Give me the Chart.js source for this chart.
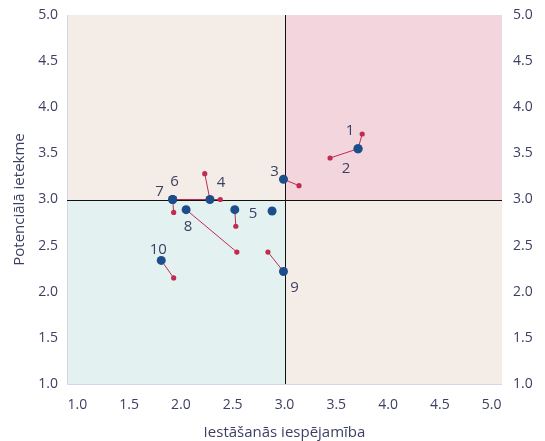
<!DOCTYPE html>
<html>
<head>
<meta charset="utf-8">
<script src="https://cdn.jsdelivr.net/npm/chart.js@4.4.1/dist/chart.umd.min.js"></script>
<style>
  html, body { margin: 0; padding: 0; background: #ffffff; }
  #wrap { width: 545px; height: 441px; position: relative; }
</style>
</head>
<body>
<div id="wrap"><canvas id="c" width="545" height="441"></canvas></div>
<script>
// Risk identifiers
const riskIds = ['1', '2', '3', '4', '5', '6', '7', '8', '9', '10', ''];

// Current assessment (likelihood, impact)
const currentLikelihood = [3.71, 3.71, 2.99, 2.28, 2.88, 1.92, 1.92, 2.05, 2.99, 1.81, 2.52];
const currentImpact     = [3.55, 3.55, 3.22, 3.00, 2.875, 3.00, 3.00, 2.89, 2.22, 2.34, 2.89];

// Previous assessment (null where there is none)
const previousLikelihood = [3.75, 3.44, 3.14, 2.23, null, 2.38, 1.93, 2.54, 2.84, 1.93, 2.53];
const previousImpact     = [3.71, 3.45, 3.15, 3.28, null, 3.00, 2.86, 2.43, 2.43, 2.15, 2.71];

// Axis ticks, plotted ranges and quadrant threshold
const axisTicks = [1.0, 1.5, 2.0, 2.5, 3.0, 3.5, 4.0, 4.5, 5.0];
const xRange = [0.9, 5.1];
const yRange = [1.0, 5.0];
const threshold = 3.0;

const TEXT = '#3c3f62';
const BLUE = '#1d4e89';
const RED = '#c12b52';
const FONT = "'Open Sans', 'Noto Sans', sans-serif";

// Pixel offsets for the risk number labels, relative to the current point
const labelOffsets = {
  '1': [-8, -18], '2': [-12, 20], '3': [-9, -7], '4': [11, -17], '5': [-19, 3],
  '6': [2, -18], '7': [-13, -8], '8': [2, 17], '9': [11, 16], '10': [-3, -11]
};

const currentPts = riskIds.map((id, i) => ({ x: currentLikelihood[i], y: currentImpact[i] }));
const previousPts = riskIds
  .map((id, i) => previousLikelihood[i] == null ? null : { x: previousLikelihood[i], y: previousImpact[i] })
  .filter(p => p);

// One short segment per risk, from previous to current position
const segmentSets = riskIds
  .map((id, i) => previousLikelihood[i] == null ? null : {
    type: 'scatter',
    data: [{ x: previousLikelihood[i], y: previousImpact[i] }, { x: currentLikelihood[i], y: currentImpact[i] }],
    showLine: true,
    borderColor: RED,
    borderWidth: 1,
    pointRadius: 0,
    order: 3
  })
  .filter(d => d);

const quadrants = {
  id: 'quadrants',
  beforeDatasetsDraw(chart) {
    const { ctx, chartArea: a, scales } = chart;
    const mx = Math.round(scales.x.getPixelForValue(threshold));
    const my = Math.round(scales.y.getPixelForValue(threshold));
    ctx.save();
    ctx.fillStyle = '#f4ece6'; ctx.fillRect(a.left, a.top, mx - a.left, my - a.top);
    ctx.fillStyle = '#f3d5dd'; ctx.fillRect(mx, a.top, a.right - mx, my - a.top);
    ctx.fillStyle = '#e3f1f1'; ctx.fillRect(a.left, my, mx - a.left, a.bottom - my);
    ctx.fillStyle = '#f4ece6'; ctx.fillRect(mx, my, a.right - mx, a.bottom - my);
    // chart frame lines
    ctx.strokeStyle = '#d3d7ea';
    ctx.lineWidth = 1;
    ctx.beginPath();
    ctx.moveTo(a.left + 0.5, a.top); ctx.lineTo(a.left + 0.5, a.bottom + 0.5);
    ctx.lineTo(a.right, a.bottom + 0.5);
    ctx.stroke();
    // threshold lines
    ctx.strokeStyle = '#111111';
    ctx.beginPath();
    ctx.moveTo(a.left, my + 0.5); ctx.lineTo(a.right, my + 0.5);
    ctx.moveTo(mx + 0.5, a.top); ctx.lineTo(mx + 0.5, a.bottom);
    ctx.stroke();
    ctx.restore();
  },
  afterDatasetsDraw(chart) {
    const { ctx, scales } = chart;
    ctx.save();
    ctx.fillStyle = TEXT;
    ctx.font = '15px ' + FONT;
    ctx.textAlign = 'center';
    ctx.textBaseline = 'middle';
    riskIds.forEach((id, i) => {
      if (!id) return;
      const off = labelOffsets[id] || [0, -14];
      const px = scales.x.getPixelForValue(currentLikelihood[i]) + off[0];
      const py = scales.y.getPixelForValue(currentImpact[i]) + off[1];
      ctx.fillText(id, px, py);
    });
    ctx.restore();
  }
};

const tickCfg = (pad) => ({
  color: TEXT,
  font: { family: FONT, size: 14 },
  padding: pad,
  autoSkip: false,
  maxRotation: 0,
  callback: v => Number(v).toFixed(1)
});

const fixedTicks = s => { s.ticks = axisTicks.map(v => ({ value: v })); };
// fixed axis boxes; tick labels may overhang the plot edges
const fitBox = (w, h) => s => {
  if (w != null) s.width = w;
  if (h != null) s.height = h;
  s.paddingTop = 0; s.paddingBottom = 0; s.paddingLeft = 0; s.paddingRight = 0;
};

new Chart(document.getElementById('c'), {
  type: 'scatter',
  data: {
    datasets: [
      {
        data: currentPts,
        backgroundColor: BLUE,
        borderWidth: 0,
        pointRadius: 4.5,
        pointHoverRadius: 4.5,
        order: 1
      },
      {
        data: previousPts,
        backgroundColor: RED,
        borderWidth: 0,
        pointRadius: 2.6,
        pointHoverRadius: 2.6,
        order: 2
      },
      ...segmentSets
    ]
  },
  options: {
    responsive: false,
    animation: false,
    devicePixelRatio: 1,
    layout: { padding: { top: 15, left: 0, right: 0, bottom: 0 } },
    plugins: { legend: { display: false }, tooltip: { enabled: false } },
    scales: {
      x: {
        type: 'linear',
        min: xRange[0], max: xRange[1],
        afterBuildTicks: fixedTicks,
        afterFit: fitBox(null, 57),
        grid: { display: false, drawTicks: false },
        border: { display: false },
        ticks: tickCfg(13),
        title: {
          display: true,
          text: 'Iestāšanās iespējamība',
          color: TEXT,
          font: { family: FONT, size: 15 },
          padding: { top: 0, bottom: -1 }
        }
      },
      y: {
        type: 'linear',
        position: 'left',
        min: yRange[0], max: yRange[1],
        afterBuildTicks: fixedTicks,
        afterFit: fitBox(67, null),
        grid: { display: false, drawTicks: false },
        border: { display: false },
        ticks: tickCfg(9),
        title: {
          display: true,
          text: 'Potenciālā ietekme',
          color: TEXT,
          font: { family: FONT, size: 15 },
          padding: { top: 11, bottom: 0 }
        }
      },
      y2: {
        type: 'linear',
        position: 'right',
        min: yRange[0], max: yRange[1],
        afterBuildTicks: fixedTicks,
        afterFit: fitBox(43, null),
        grid: { display: false, drawTicks: false },
        border: { display: false },
        ticks: tickCfg(11)
      }
    }
  },
  plugins: [quadrants]
});
</script>
</body>
</html>
